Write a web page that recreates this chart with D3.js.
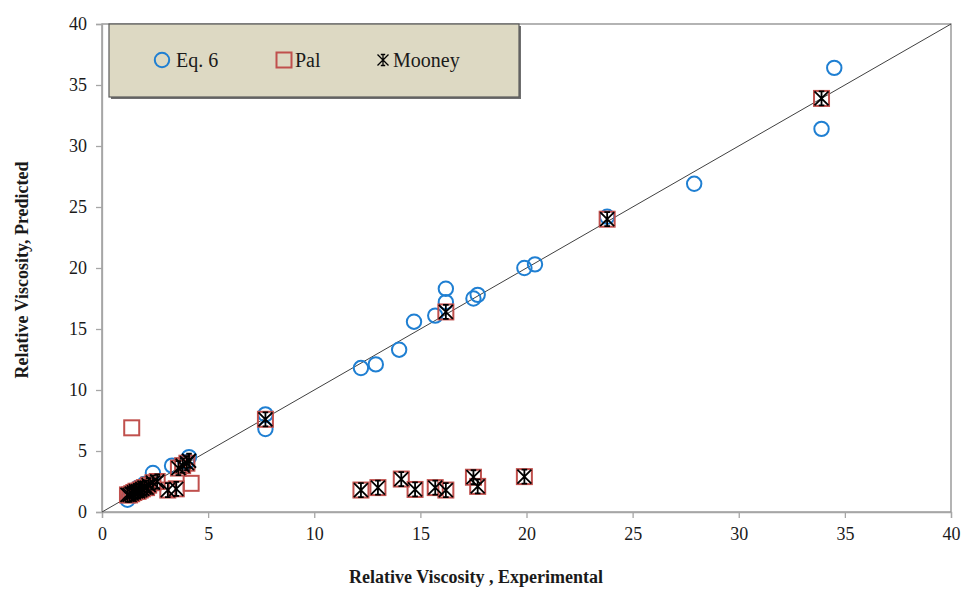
<!DOCTYPE html>
<html>
<head>
<meta charset="utf-8">
<script src="https://cdn.jsdelivr.net/npm/d3@7"></script>
<style>
  html, body { margin: 0; padding: 0; background: #fff; }
  svg { display: block; }
  text { font-family: "Liberation Serif", "Times New Roman", serif; }
</style>
</head>
<body>
<svg id="chart" width="964" height="590"></svg>
<script>
// Relative viscosity: experimental (x) vs predicted (y) for three models
const axisTicks = [0, 5, 10, 15, 20, 25, 30, 35, 40];

const eq6X = [34.5, 33.9, 27.9, 23.8, 20.4, 19.9, 17.7, 17.5, 16.2, 16.2, 15.7, 14.7, 14.0, 12.9, 12.2, 7.7, 7.7, 4.1, 4.0, 3.3, 2.4, 2.0, 1.7, 1.5, 1.3, 1.2];
const eq6Y = [36.4, 31.4, 26.9, 24.2, 20.3, 20.0, 17.8, 17.5, 18.3, 17.2, 16.1, 15.6, 13.3, 12.1, 11.8, 8.0, 6.8, 4.5, 4.1, 3.8, 3.2, 2.3, 2.0, 1.7, 1.4, 1.0];

const palX = [33.9, 23.8, 16.2, 7.7, 19.9, 17.7, 17.5, 16.2, 15.7, 14.75, 14.1, 13.0, 12.2, 4.2, 4.0, 3.8, 3.6, 3.5, 3.1, 2.6, 2.4, 2.2, 2.1, 2.0, 1.9, 1.8, 1.7, 1.6, 1.5, 1.4, 1.3, 1.2, 1.4];
const palY = [33.9, 24.0, 16.4, 7.6, 2.9, 2.1, 2.85, 1.8, 2.0, 1.85, 2.7, 2.0, 1.8, 2.35, 4.0, 3.8, 3.6, 1.9, 1.8, 2.5, 2.4, 2.2, 2.0, 2.0, 1.9, 1.8, 1.7, 1.7, 1.6, 1.5, 1.4, 1.4, 6.9];

const mooneyX = [33.9, 23.8, 16.2, 7.7, 19.9, 17.7, 17.5, 16.2, 15.7, 14.75, 14.1, 13.0, 12.2, 4.1, 4.0, 3.8, 3.6, 3.5, 3.1, 2.6, 2.4, 2.2, 2.1, 2.0, 1.9, 1.8, 1.7, 1.6, 1.5, 1.4, 1.3, 1.2];
const mooneyY = [33.9, 24.0, 16.4, 7.6, 2.9, 2.1, 2.85, 1.8, 2.0, 1.85, 2.7, 2.0, 1.8, 4.2, 4.0, 3.8, 3.6, 1.9, 1.8, 2.5, 2.4, 2.2, 2.0, 2.0, 1.9, 1.8, 1.7, 1.7, 1.6, 1.5, 1.4, 1.4];

const seriesNames = ["Eq. 6", "Pal", "Mooney"];

const svg = d3.select("#chart");
const plotL = 102, plotR = 951, plotT = 24, plotB = 512;

const x = d3.scaleLinear().domain([0, 40]).range([plotL, plotR]);
const y = d3.scaleLinear().domain([0, 40]).range([plotB, plotT]);

// plot frame
svg.append("rect")
  .attr("x", plotL).attr("y", plotT)
  .attr("width", plotR - plotL).attr("height", plotB - plotT)
  .attr("fill", "none").attr("stroke", "#8c8c8c").attr("stroke-width", 1.3);

// axes
const xAxis = svg.append("g").attr("transform", `translate(0,${plotB})`)
  .call(d3.axisBottom(x).tickValues(axisTicks).tickSize(6).tickPadding(9));
const yAxis = svg.append("g").attr("transform", `translate(${plotL},0)`)
  .call(d3.axisLeft(y).tickValues(axisTicks).tickSize(6).tickPadding(9));
[xAxis, yAxis].forEach(g => {
  g.select(".domain").attr("stroke", "#a6a6a6").attr("stroke-width", 1.3);
  g.selectAll(".tick line").attr("stroke", "#a6a6a6").attr("stroke-width", 1.3);
  g.selectAll(".tick text").attr("fill", "#1a1a1a")
    .style("font-family", "'Liberation Serif', serif").style("font-size", "18px");
});

// 1:1 line
svg.append("line")
  .attr("x1", x(0)).attr("y1", y(0)).attr("x2", x(40)).attr("y2", y(40))
  .attr("stroke", "#404040").attr("stroke-width", 1);

// marker drawers
const blue = "#1f7fd2", red = "#c0504d";
function drawCircle(g, cx, cy) {
  g.append("circle").attr("cx", cx).attr("cy", cy).attr("r", 7.2)
    .attr("fill", "none").attr("stroke", blue).attr("stroke-width", 2);
}
function drawSquare(g, cx, cy) {
  g.append("rect").attr("x", cx - 7.5).attr("y", cy - 7.5).attr("width", 15).attr("height", 15)
    .attr("fill", "none").attr("stroke", red).attr("stroke-width", 2);
}
function drawStar(g, cx, cy, s, w) {
  const p = d3.path();
  p.moveTo(cx - s, cy - s); p.lineTo(cx + s, cy + s);
  p.moveTo(cx - s, cy + s); p.lineTo(cx + s, cy - s);
  p.moveTo(cx, cy - s); p.lineTo(cx, cy + s);
  p.moveTo(cx - s * 0.4, cy - s); p.lineTo(cx + s * 0.4, cy - s);
  p.moveTo(cx - s * 0.4, cy + s); p.lineTo(cx + s * 0.4, cy + s);
  g.append("path").attr("d", p.toString())
    .attr("fill", "none").attr("stroke", "#000").attr("stroke-width", w);
}

const marks = svg.append("g");
eq6X.forEach((v, i) => drawCircle(marks, x(v), y(eq6Y[i])));
palX.forEach((v, i) => drawSquare(marks, x(v), y(palY[i])));
mooneyX.forEach((v, i) => drawStar(marks, x(v), y(mooneyY[i]), 7, 1.8));

// legend
const lg = svg.append("g");
lg.append("rect").attr("x", 111).attr("y", 26).attr("width", 410).attr("height", 73)
  .attr("fill", "#6f6f6f");
lg.append("rect").attr("x", 109).attr("y", 24).attr("width", 410).attr("height", 73)
  .attr("fill", "#ddd9c3").attr("stroke", "#5a5a5a").attr("stroke-width", 1.2);
const ly = 60;
drawCircle(lg, 162, ly);
drawSquare(lg, 284, ly);
drawStar(lg, 383, ly, 5.5, 1.3);
const lx = [176, 295, 393];
seriesNames.forEach((n, i) => {
  lg.append("text").attr("x", lx[i]).attr("y", ly + 6.5)
    .attr("fill", "#1a1a1a").style("font-size", "20px").text(n);
});

// axis titles
svg.append("text").attr("x", 476).attr("y", 583).attr("text-anchor", "middle")
  .style("font-size", "18px").style("font-weight", "bold").attr("fill", "#1a1a1a")
  .text("Relative Viscosity , Experimental");
svg.append("text").attr("transform", "translate(28,270) rotate(-90)").attr("text-anchor", "middle")
  .style("font-size", "18px").style("font-weight", "bold").attr("fill", "#1a1a1a")
  .text("Relative Viscosity, Predicted");
</script>
</body>
</html>
